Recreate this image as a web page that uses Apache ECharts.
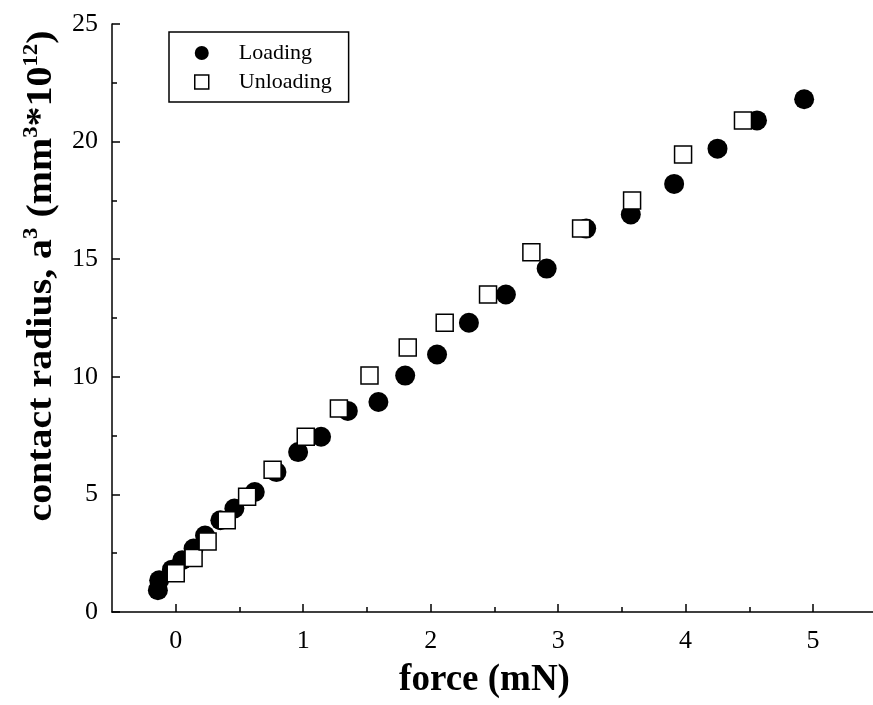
<!DOCTYPE html>
<html><head><meta charset="utf-8">
<script src="https://cdn.jsdelivr.net/npm/echarts@6/dist/echarts.min.js"></script>
<style>html,body{margin:0;padding:0;background:#fff}#c{width:873px;height:705px}</style>
</head><body><div id="c"></div>
<script>
const loadingForce = [-0.14,-0.13,-0.03,0.05,0.14,0.23,0.35,0.46,0.62,0.79,0.96,1.14,1.35,1.59,1.80,2.05,2.30,2.59,2.91,3.22,3.57,3.91,4.25,4.56,4.93];
const loadingA3    = [0.93,1.35,1.80,2.20,2.70,3.25,3.90,4.40,5.10,5.95,6.80,7.45,8.55,8.93,10.05,10.95,12.30,13.50,14.60,16.30,16.90,18.20,19.70,20.90,21.80];
const unloadingForce = [0.00,0.14,0.25,0.40,0.56,0.76,1.02,1.28,1.52,1.82,2.11,2.45,2.79,3.18,3.58,3.98,4.45];
const unloadingA3    = [1.65,2.30,3.00,3.90,4.90,6.05,7.45,8.65,10.05,11.25,12.30,13.50,15.30,16.30,17.50,19.45,20.90];
const xTickValues = [0,1,2,3,4,5];
const xMinorTickValues = [0.5,1.5,2.5,3.5,4.5];
const seriesNames = ['Loading','Unloading'];
const xTitle = 'force (mN)';

const FF = 'Liberation Serif, Times New Roman, serif';
const zip = (a,b) => a.map((v,i)=>[v,b[i]]);

const chart = echarts.init(document.getElementById('c'), null, {renderer:'canvas'});
chart.setOption({
  animation:false,
  backgroundColor:'#fff',
  grid:{left:112, right:0, top:24, bottom:93, containLabel:false},
  legend:{
    orient:'vertical', left:169, top:32, padding:[10,17,9,25], itemGap:7,
    itemWidth:14, itemHeight:14, borderColor:'#000', borderWidth:1.5,
    textStyle:{fontFamily:FF, fontSize:22, color:'#000', lineHeight:22, padding:[0,0,0,25]},
    data:[
      {name:seriesNames[0], icon:'circle', itemStyle:{color:'#000'}},
      {name:seriesNames[1], icon:'rect', itemStyle:{color:'#fff', borderColor:'#000', borderWidth:1.5}}
    ]
  },
  xAxis:[{
    type:'value', min:-0.5, max:5.47, position:'bottom',
    name:xTitle, nameLocation:'middle', nameGap:50,
    nameTextStyle:{fontFamily:FF, fontSize:37, fontWeight:'bold', color:'#000', padding:[0,16,0,0]},
    axisLine:{show:true, onZero:false, lineStyle:{color:'#000', width:1.5}},
    axisTick:{show:true, inside:true, length:8, customValues:xTickValues, lineStyle:{color:'#000', width:1.5}},
    axisLabel:{customValues:xTickValues, fontFamily:FF, fontSize:26, color:'#000', margin:16},
    splitLine:{show:false}
  },{
    type:'value', min:-0.5, max:5.47, position:'bottom', offset:0,
    axisLine:{show:false},
    axisTick:{show:true, inside:true, length:5, customValues:xMinorTickValues, lineStyle:{color:'#000', width:1.5}},
    axisLabel:{show:false}, splitLine:{show:false}
  }],
  yAxis:{
    type:'value', min:0, max:25, interval:5,
    axisLine:{show:true, onZero:false, lineStyle:{color:'#000', width:1.5}},
    axisTick:{show:true, inside:true, length:8, lineStyle:{color:'#000', width:1.5}},
    minorTick:{show:true, splitNumber:2, length:5, lineStyle:{color:'#000', width:1.5}},
    axisLabel:{fontFamily:FF, fontSize:26, color:'#000', margin:14},
    splitLine:{show:false}, minorSplitLine:{show:false}
  },
  graphic:[{
    type:'text', x:42, y:276, rotation:Math.PI/2, scaleX:1.14,
    style:{
      text:'{n|contact radius, a}{s|3}{n| (mm}{s|3}{n|*10}{s|12}{n|)}',
      align:'center', verticalAlign:'middle', textAlign:'center', textVerticalAlign:'middle',
      fill:'#000',
      rich:{
        n:{fontFamily:FF, fontSize:35, fontWeight:'bold', lineHeight:40, fill:'#000', color:'#000'},
        s:{fontFamily:FF, fontSize:20, fontWeight:'bold', lineHeight:22, verticalAlign:'top', fill:'#000', color:'#000'}
      }
    }
  }],
  series:[{
    name:seriesNames[0], type:'scatter', xAxisIndex:0, symbol:'circle', symbolSize:20,
    itemStyle:{color:'#000', opacity:1}, z:2,
    data:zip(loadingForce, loadingA3)
  },{
    name:seriesNames[1], type:'scatter', xAxisIndex:0, symbol:'rect', symbolSize:17,
    itemStyle:{color:'#fff', borderColor:'#000', borderWidth:1.5, opacity:1}, z:3,
    data:zip(unloadingForce, unloadingA3)
  }]
});
</script></body></html>
